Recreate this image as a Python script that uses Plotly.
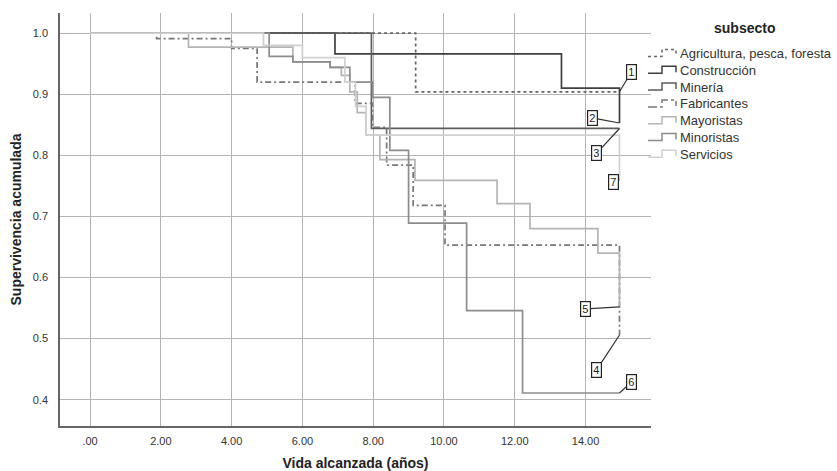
import plotly.graph_objects as go

# ---------------- data ----------------
names = ["Agricultura, pesca, foresta", "Construcción", "Minería", "Fabricantes",
         "Mayoristas", "Minoristas", "Servicios"]
labels = ["1", "2", "3", "4", "5", "6", "7"]

agri_t = [0, 9.2, 14.96]
agri_s = [1.0, 0.904, 0.904]

cons_t = [0, 6.92, 13.32, 14.96]
cons_s = [1.0, 0.966, 0.91, 0.853]

mine_t = [0, 7.95, 14.96]
mine_s = [1.0, 0.844, 0.844]

fabr_t = [0, 1.88, 4.0, 4.72, 7.49, 7.98, 8.38, 9.13, 10.03, 14.96]
fabr_s = [1.0, 0.991, 0.975, 0.92, 0.885, 0.846, 0.784, 0.718, 0.653, 0.506]

mayo_t = [0, 2.78, 5.73, 6.78, 7.1, 7.34, 7.55, 7.8, 8.19, 9.18, 11.5, 12.43, 14.35, 14.96]
mayo_s = [1.0, 0.977, 0.953, 0.944, 0.931, 0.904, 0.87, 0.833, 0.793, 0.759, 0.721, 0.68, 0.64, 0.552]

mino_t = [0, 5.06, 5.73, 6.78, 7.34, 7.98, 8.47, 9.0, 10.64, 12.22, 14.96]
mino_s = [1.0, 0.962, 0.953, 0.944, 0.92, 0.895, 0.808, 0.689, 0.546, 0.411, 0.411]

serv_t = [0, 4.9, 6.0, 7.2, 7.5, 7.8, 14.96]
serv_s = [1.0, 0.98, 0.96, 0.92, 0.88, 0.833, 0.76]

x_ticks = [0, 2, 4, 6, 8, 10, 12, 14]
x_ticklabels = [".00", "2.00", "4.00", "6.00", "8.00", "10.00", "12.00", "14.00"]
y_ticks = [0.4, 0.5, 0.6, 0.7, 0.8, 0.9, 1.0]
y_ticklabels = ["0.4", "0.5", "0.6", "0.7", "0.8", "0.9", "1.0"]

series_t = [agri_t, cons_t, mine_t, fabr_t, mayo_t, mino_t, serv_t]
series_s = [agri_s, cons_s, mine_s, fabr_s, mayo_s, mino_s, serv_s]

# ---------------- styles ----------------
colors = ["#666666", "#3f3f3f", "#5c5c5c", "#777777", "#b4b4b4", "#8c8c8c", "#d0d0d0"]
dashes = ["dot", "solid", "solid", "6px,3px,2px,3px", "solid", "solid", "solid"]
label_off = [(12, -20), (-27, -5), (-23, 25), (-23, 35), (-34, 2), (12, -11), (-6, 2)]

W, H = 837, 471
ML, MR, MT, MB = 60, 186, 13, 45
PW, PH = W - ML - MR, H - MT - MB

FONT = "Liberation Sans, Arial, sans-serif"


def px_to_paper(px, py):
    return (px - ML) / PW, (H - MB - py) / PH


fig = go.Figure()
for i in range(len(names)):
    fig.add_trace(go.Scatter(
        x=series_t[i], y=series_s[i], mode="lines", name=names[i],
        line=dict(color=colors[i], width=1.7, dash=dashes[i], shape="hv"),
        showlegend=False, hoverinfo="skip",
    ))

# end-of-curve numbered labels
for i in range(len(names)):
    ox, oy = label_off[i]
    fig.add_annotation(
        x=series_t[i][-1], y=series_s[i][-1], xref="x", yref="y",
        text=labels[i], showarrow=True, arrowhead=0, arrowwidth=1.2,
        arrowcolor="#333333", ax=ox, ay=oy,
        font=dict(family=FONT, size=11, color="#222222"),
        bordercolor="#222222", borderwidth=1.2, borderpad=1, bgcolor="white",
    )

# manual legend (step glyph + text)
leg_title_xy = (744, 28)
leg_x0, leg_y0, leg_dy = 648, 53.5, 16.8
tx, ty = px_to_paper(*leg_title_xy)
fig.add_annotation(x=tx, y=ty, xref="paper", yref="paper", text="<b>subsecto</b>",
                   showarrow=False, xanchor="center", yanchor="middle",
                   font=dict(family=FONT, size=14, color="#222222"))
for i in range(len(names)):
    cy = leg_y0 + i * leg_dy
    pts = [(leg_x0, cy + 3), (leg_x0 + 14, cy + 3), (leg_x0 + 14, cy - 4),
           (leg_x0 + 28, cy - 4), (leg_x0 + 28, cy + 2)]
    pp = [px_to_paper(a, b) for a, b in pts]
    path = "M " + " L ".join(f"{a:.5f},{b:.5f}" for a, b in pp)
    dash = dashes[i] if dashes[i] != "6px,3px,2px,3px" else "dashdot"
    fig.add_shape(type="path", path=path, xref="paper", yref="paper",
                  line=dict(color=colors[i], width=1.5, dash=dash))
    lx, ly = px_to_paper(leg_x0 + 30, cy)
    fig.add_annotation(x=lx, y=ly, xref="paper", yref="paper", text=names[i],
                       showarrow=False, xanchor="left", yanchor="middle",
                       font=dict(family=FONT, size=13, color="#333333"))

fig.update_layout(
    width=W, height=H,
    margin=dict(l=ML, r=MR, t=MT, b=MB, autoexpand=False),
    paper_bgcolor="white", plot_bgcolor="white",
    font=dict(family=FONT, size=11, color="#333333"),
    showlegend=False, hovermode=False,
    xaxis=dict(
        range=[-0.85, 15.85], tickvals=x_ticks, ticktext=x_ticklabels,
        showgrid=True, gridcolor="#b3b3b3", gridwidth=1, zeroline=False,
        showline=True, linecolor="#666666", linewidth=1.8, ticks="",
        ticklabelstandoff=4, automargin=False,
        title=dict(text="<b>Vida alcanzada (años)</b>", font=dict(size=14, color="#222222"), standoff=12),
        tickfont=dict(size=11, color="#333333"),
    ),
    yaxis=dict(
        range=[0.357, 1.033], tickvals=y_ticks, ticktext=y_ticklabels,
        showgrid=True, gridcolor="#b3b3b3", gridwidth=1, zeroline=False,
        showline=True, linecolor="#666666", linewidth=1.8, ticks="",
        ticklabelstandoff=8, automargin=False,
        title=dict(text="<b>Supervivencia acumulada</b>", font=dict(size=14, color="#222222"), standoff=8),
        tickfont=dict(size=11, color="#333333"),
    ),
)

fig.write_html("out.html", config={"displayModeBar": False, "staticPlot": True},
               post_script="document.body.style.margin='0px';document.body.style.overflow='hidden';")
